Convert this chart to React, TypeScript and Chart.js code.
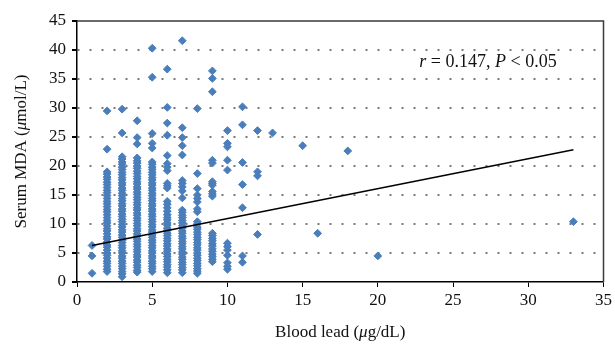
import React, { useEffect, useRef } from "react";
import { Chart, registerables } from "chart.js";

Chart.register(...registerables);

// Serum MDA (µmol/L) readings grouped by blood lead value (µg/dL)
const mdaAtLead1 = [6.3, 4.5, 1.5];
const mdaAtLead2 = [29.5, 22.9, 19.0, 18.6, 18.1, 17.7, 17.2, 16.8, 16.3, 15.8, 15.4, 14.9, 14.4, 13.9, 13.5, 13.0, 12.5, 12.1, 11.6, 11.1, 10.6, 10.2, 9.7, 9.2, 8.8, 8.3, 7.8, 7.4, 6.9, 6.4, 6.0, 5.5, 5.0, 4.6, 4.1, 3.6, 3.2, 2.7, 2.2, 1.8];
const mdaAtLead3 = [29.8, 25.7, 21.6, 21.2, 20.7, 20.3, 19.8, 19.4, 18.9, 18.5, 18.0, 17.6, 17.1, 16.7, 16.2, 15.8, 15.3, 14.9, 14.4, 14.0, 13.5, 13.1, 12.6, 12.2, 11.7, 11.3, 10.8, 10.4, 9.9, 9.5, 9.0, 8.6, 8.1, 7.7, 7.2, 6.8, 6.3, 5.9, 5.4, 5.0, 4.5, 4.1, 3.6, 3.2, 2.7, 2.3, 1.8, 1.4, 0.9];
const mdaAtLead4 = [27.8, 24.9, 23.8, 21.4, 20.9, 20.5, 20.0, 19.6, 19.1, 18.7, 18.2, 17.8, 17.3, 16.9, 16.4, 16.0, 15.5, 15.1, 14.6, 14.2, 13.7, 13.3, 12.8, 12.4, 11.9, 11.5, 11.0, 10.6, 10.1, 9.7, 9.2, 8.8, 8.3, 7.9, 7.4, 7.0, 6.5, 6.1, 5.6, 5.2, 4.7, 4.3, 3.8, 3.4, 2.9, 2.5, 2.0, 1.7];
const mdaAtLead5 = [40.3, 35.3, 25.6, 23.9, 23.1, 20.7, 20.3, 19.8, 19.4, 18.9, 18.5, 18.0, 17.6, 17.1, 16.7, 16.2, 15.8, 15.3, 14.9, 14.4, 14.0, 13.5, 13.1, 12.6, 12.2, 11.7, 11.3, 10.8, 10.4, 9.9, 9.5, 9.0, 8.6, 8.1, 7.7, 7.2, 6.8, 6.3, 5.9, 5.4, 5.0, 4.5, 4.1, 3.6, 3.2, 2.7, 2.3, 1.8];
const mdaAtLead6 = [36.7, 30.1, 27.4, 25.3, 21.8, 20.4, 19.8, 19.2, 17.0, 16.6, 16.2, 13.9, 13.4, 12.8, 12.2, 11.6, 11.1, 10.7, 10.2, 9.8, 9.3, 8.9, 8.4, 8.0, 7.5, 7.1, 6.6, 6.2, 5.7, 5.3, 4.8, 4.4, 3.9, 3.5, 3.0, 2.6, 2.1, 1.6];
const mdaAtLead7 = [41.6, 26.6, 24.9, 23.5, 21.9, 17.5, 17.0, 16.4, 15.7, 14.5, 12.4, 12.0, 11.5, 11.1, 10.6, 10.2, 9.7, 9.3, 8.8, 8.4, 7.9, 7.5, 7.0, 6.6, 6.1, 5.7, 5.2, 4.8, 4.3, 3.9, 3.4, 3.0, 2.5, 2.1, 1.6];
const mdaAtLead8 = [29.9, 18.7, 16.1, 15.0, 14.4, 13.8, 12.6, 12.1, 10.4, 10.0, 9.5, 9.1, 8.6, 8.2, 7.7, 7.3, 6.8, 6.4, 5.9, 5.5, 5.0, 4.6, 4.1, 3.7, 3.2, 2.8, 2.3, 1.9, 1.5];
const mdaAtLead9 = [36.4, 35.1, 32.8, 21.0, 20.5, 17.3, 17.0, 16.7, 15.6, 15.2, 14.8, 8.4, 8.0, 7.5, 7.1, 6.6, 6.2, 5.7, 5.3, 4.8, 4.4, 3.9, 3.5];
const mdaAtLead10 = [26.1, 23.9, 23.3, 21.0, 19.3, 6.7, 6.1, 5.5, 4.6, 3.3, 2.7, 2.2];
const mdaAtLead11 = [30.2, 27.1, 20.6, 16.8, 12.8, 4.5, 3.4];
const mdaAtLead12 = [26.1, 19.0, 18.3, 8.2];
const mdaAtLead13 = [25.7];
const mdaAtLead15 = [23.5];
const mdaAtLead16 = [8.4];
const mdaAtLead18 = [22.6];
const mdaAtLead20 = [4.5];
const mdaAtLead33 = [10.4];

const leadGroups: [number, number[]][] = [
  [1, mdaAtLead1], [2, mdaAtLead2], [3, mdaAtLead3], [4, mdaAtLead4],
  [5, mdaAtLead5], [6, mdaAtLead6], [7, mdaAtLead7], [8, mdaAtLead8],
  [9, mdaAtLead9], [10, mdaAtLead10], [11, mdaAtLead11], [12, mdaAtLead12],
  [13, mdaAtLead13], [15, mdaAtLead15], [16, mdaAtLead16], [18, mdaAtLead18],
  [20, mdaAtLead20], [33, mdaAtLead33],
];

// Regression trend line end points
const trendX = [1, 33];
const trendY = [6.3, 22.8];

const xTicks = [0, 5, 10, 15, 20, 25, 30, 35];
const yTicks = [0, 5, 10, 15, 20, 25, 30, 35, 40, 45];

const FONT = "'Liberation Serif', 'DejaVu Serif', serif";

function drawMixed(ctx: CanvasRenderingContext2D, parts: [string, boolean][], size: number, cx: number, cy: number) {
  let total = 0;
  const widths = parts.map(([t, it]) => {
    ctx.font = `${it ? "italic " : ""}${size}px ${FONT}`;
    const w = ctx.measureText(t).width;
    total += w;
    return w;
  });
  let x = cx - total / 2;
  ctx.textBaseline = "middle";
  ctx.textAlign = "left";
  parts.forEach(([t, it], i) => {
    ctx.font = `${it ? "italic " : ""}${size}px ${FONT}`;
    ctx.fillText(t, x, cy);
    x += widths[i];
  });
}

const decorPlugin = {
  id: "decor",
  afterDatasetsDraw(chart: any) {
    const { ctx, chartArea } = chart;
    ctx.save();
    ctx.strokeStyle = "#3a3a3a";
    ctx.lineWidth = 1.5;
    ctx.beginPath();
    ctx.moveTo(chartArea.left, chartArea.top);
    ctx.lineTo(chartArea.right, chartArea.top);
    ctx.lineTo(chartArea.right, chartArea.bottom);
    ctx.stroke();
    ctx.fillStyle = "#111";
    drawMixed(ctx, [["r", true], [" = 0.147, ", false], ["P", true], [" < 0.05", false]], 18, 488, 62);
    drawMixed(ctx, [["Blood lead (", false], ["\u03bc", true], ["g/dL)", false]], 17, (chartArea.left + chartArea.right) / 2, 333);
    ctx.translate(22, (chartArea.top + chartArea.bottom) / 2);
    ctx.rotate(-Math.PI / 2);
    drawMixed(ctx, [["Serum MDA (", false], ["\u03bc", true], ["mol/L)", false]], 17, 0, 0);
    ctx.restore();
  },
};

export default function App() {
  const ref = useRef<HTMLCanvasElement | null>(null);
  useEffect(() => {
    if (!ref.current) return;
    const points: { x: number; y: number }[] = [];
    leadGroups.forEach(([lead, vals]) => vals.forEach((v) => points.push({ x: lead, y: v })));
    const trend = trendX.map((x, i) => ({ x, y: trendY[i] }));
    const chart = new Chart(ref.current, {
      type: "scatter",
      data: {
        datasets: [
          {
            type: "line",
            data: trend,
            borderColor: "#000",
            borderWidth: 1.4,
            pointRadius: 0,
            fill: false,
            order: 0,
          } as any,
          {
            data: points,
            pointStyle: "rectRot",
            pointRadius: 3.9,
            pointBorderWidth: 1,
            backgroundColor: "#4A7EBB",
            borderColor: "#4A7EBB",
            order: 1,
          },
        ],
      },
      options: {
        animation: false,
        responsive: false,
        maintainAspectRatio: false,
        layout: { padding: { top: 21, right: 11, left: 0, bottom: 0 } },
        plugins: { legend: { display: false }, tooltip: { enabled: false } },
        scales: {
          x: {
            type: "linear",
            min: 0,
            max: 35,
            afterBuildTicks: (s: any) => { s.ticks = xTicks.map((v) => ({ value: v })); },
            afterFit: (s: any) => { s.height = 64; },
            border: { display: true, color: "#000", width: 1.5 },
            grid: { color: "rgba(0,0,0,0)", tickColor: "#000", tickLength: 5, tickBorderDash: [], drawOnChartArea: false },
            ticks: { color: "#111", font: { family: FONT, size: 17 }, padding: 3, maxRotation: 0 },
          },
          y: {
            type: "linear",
            min: 0,
            max: 45,
            afterBuildTicks: (s: any) => { s.ticks = yTicks.map((v) => ({ value: v })); },
            afterFit: (s: any) => { s.width = 77; },
            border: { display: true, color: "#000", width: 1.5, dash: [2, 10] },
            grid: {
              color: (c: any) => (c.tick && (c.tick.value === 0 || c.tick.value === 45) ? "rgba(0,0,0,0)" : "#7a7a7a"),
              lineWidth: 2,
              tickColor: "#000",
              tickLength: 5,
              tickBorderDash: [],
            },
            ticks: { color: "#111", font: { family: FONT, size: 17 }, padding: 6 },
          },
        },
      },
      plugins: [decorPlugin],
    });
    return () => chart.destroy();
  }, []);
  return (
    <div style={{ position: "fixed", left: 0, top: 0, width: 615, height: 346, background: "#fff" }}>
      <canvas ref={ref} width={615} height={346} style={{ display: "block", width: 615, height: 346 }} />
    </div>
  );
}
